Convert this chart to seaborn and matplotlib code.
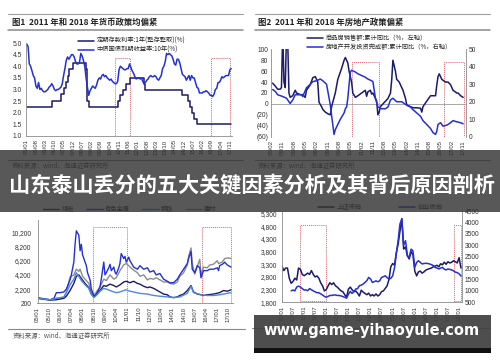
import pandas as pd
import matplotlib
matplotlib.use("Agg")
import matplotlib.pyplot as plt
import seaborn as sns
from matplotlib.lines import Line2D
from matplotlib.patches import Rectangle

# ---------------- data ----------------
# 图1: monthly 10y yield 2005-01 .. 2017-12, deposit rate as step changes
p1_yield = [
    4.95, 4.85, 4.1, 4.0, 3.8, 3.6, 3.5, 3.15, 3.05, 3.3, 3.0, 3.05,
    2.95, 2.9, 2.9, 2.95, 3.0, 3.1, 3.15, 3.25, 3.15, 3.0, 2.95, 3.0,
    3.0, 3.05, 3.1, 3.25, 3.6, 3.9, 4.25, 4.4, 4.3, 4.4, 4.5, 4.5,
    4.4, 4.2, 4.1, 4.1, 4.15, 4.55, 4.45, 4.25, 4.0, 3.5, 3.1, 2.75,
    2.95, 3.05, 3.15, 3.1, 3.05, 3.2, 3.4, 3.5, 3.45, 3.6, 3.65, 3.55,
    3.6, 3.5, 3.45, 3.4, 3.45, 3.35, 3.3, 3.25, 3.25, 3.35, 3.85, 4.0,
    3.95, 3.9, 3.85, 3.85, 3.9, 3.9, 4.1, 3.95, 3.8, 3.7, 3.55, 3.45,
    3.5, 3.5, 3.45, 3.5, 3.35, 3.25, 3.3, 3.4, 3.45, 3.55, 3.6, 3.55,
    3.55, 3.6, 3.55, 3.45, 3.4, 3.5, 3.6, 3.9, 4.0, 4.2, 4.55, 4.5,
    4.55, 4.5, 4.45, 4.3, 4.1, 4.05, 4.3, 4.3, 4.15, 3.9, 3.65, 3.6,
    3.55, 3.4, 3.5, 3.6, 3.4, 3.6, 3.5, 3.5, 3.3, 3.1, 3.05, 2.85,
    2.85, 2.85, 2.9, 2.9, 2.95, 2.9, 2.85, 2.75, 2.75, 2.7, 2.8, 3.0,
    3.05, 3.3, 3.3, 3.4, 3.55, 3.5, 3.55, 3.6, 3.6, 3.6, 3.85, 3.9,
]
p1_dep_dates = ["2005-01", "2006-08", "2007-03", "2007-05", "2007-07", "2007-08",
                "2007-09", "2007-12", "2008-10", "2008-11", "2008-12", "2010-10",
                "2010-12", "2011-02", "2011-04", "2011-07", "2012-06", "2012-07",
                "2014-11", "2015-03", "2015-05", "2015-06", "2015-08", "2015-10",
                "2017-12"]
p1_dep = [2.25, 2.52, 2.79, 3.06, 3.33, 3.60, 3.87, 4.14, 3.87, 2.52, 2.25, 2.50,
          2.75, 3.00, 3.25, 3.50, 3.25, 3.00, 2.75, 2.50, 2.25, 2.00, 1.75, 1.50,
          1.50]
p1_xticks = ["05/01", "05/08", "06/03", "06/10", "07/05", "07/12", "08/07", "09/02",
             "09/09", "10/04", "10/11", "11/06", "12/01", "12/08", "13/03", "13/10",
             "14/05", "14/12", "15/07", "16/02", "16/09", "17/04", "17/11"]
p1_yticks = [1.0, 1.5, 2.0, 2.5, 3.0, 3.5, 4.0, 4.5, 5.0]
p1_yticklabels = ["1.0", "1.5", "2.0", "2.5", "3.0", "3.5", "4.0", "4.5", "5.0"]
p1_boxes = [("2010-08", "2011-07"), ("2016-09", "2017-11")]

# 图2: sales growth (left axis), investment growth (right axis)
p2_sales_dates = [
    "2005-03", "2005-05", "2005-07", "2005-09", "2005-10", "2005-11", "2005-12", "2006-01",
    "2006-02", "2006-03", "2006-04", "2006-05", "2006-07", "2006-09", "2006-10", "2007-01",
    "2007-03", "2007-05", "2007-06", "2007-09", "2007-11", "2008-01", "2008-02", "2008-03",
    "2008-04", "2008-06", "2008-07", "2008-09", "2008-11", "2009-01", "2009-02", "2009-05",
    "2009-07", "2009-10", "2009-12", "2010-01", "2010-03", "2010-04", "2010-06", "2010-07",
    "2010-09", "2010-11", "2011-02", "2011-05", "2011-06", "2011-07", "2011-09", "2011-10",
    "2011-11", "2012-02", "2012-03", "2012-04", "2012-05", "2012-09", "2012-11", "2013-01",
    "2013-02", "2013-03", "2013-05", "2013-06", "2013-08", "2013-10", "2013-11", "2014-01",
    "2014-02", "2014-05", "2014-07", "2014-10", "2015-01", "2015-02", "2015-03", "2015-06",
    "2015-09", "2015-11", "2016-01", "2016-02", "2016-03", "2016-04", "2016-06", "2016-09",
    "2016-11", "2017-01", "2017-03", "2017-06", "2017-07", "2017-09", "2017-11"]
p2_sales = [
    38, 33, 27, 27, 30, 130, 40, 30,
    130, 120, 20, 12, 15, 25, 20, 17,
    17, 12, 25, 35, 48, 50, 45, 40,
    3, -5, -10, -15, -18, -20, -5, 20,
    45, 65, 80, 85, 75, 60, 40, 20,
    12, 15, 20, 25, 14, 22, 25, 18,
    20, 5, -20, -15, -5, 5, 10, 20,
    45, 80, 60, 45, 40, 30, 25, 10,
    -2, -5, -7, -7, -8, -15, -5, 5,
    15, 15, 15, 35, 50, 55, 45, 40,
    40, 35, 25, 20, 20, 15, 12]
p2_inv_dates = [
    "2005-03", "2005-05", "2005-07", "2005-11", "2006-02", "2006-04", "2006-05", "2006-07",
    "2006-09", "2006-11", "2007-02", "2007-03", "2007-06", "2007-09", "2007-11", "2008-02",
    "2008-05", "2008-07", "2008-10", "2008-11", "2009-01", "2009-02", "2009-04", "2009-05",
    "2009-07", "2009-09", "2009-12", "2010-01", "2010-02", "2010-03", "2010-05", "2010-06",
    "2010-09", "2010-11", "2011-02", "2011-05", "2011-07", "2011-10", "2011-11", "2012-01",
    "2012-03", "2012-06", "2012-09", "2012-11", "2013-01", "2013-03", "2013-06", "2013-10",
    "2014-02", "2014-05", "2014-07", "2014-10", "2015-01", "2015-03", "2015-06", "2015-09",
    "2015-11", "2016-01", "2016-02", "2016-03", "2016-05", "2016-07", "2016-10", "2017-01",
    "2017-03", "2017-06", "2017-09", "2017-11"]
p2_inv = [
    27, 26, 24, 23, 22, 20, 19, 21,
    24, 24, 24, 23, 28, 30, 31.5, 32,
    33, 32, 30, 26, 18, 12, 1.3, 4,
    7, 10, 13.6, 16, 17, 22, 37, 38,
    37, 36, 35, 34, 33, 32, 31.5, 22,
    17, 16, 16, 17, 21, 22, 20, 20,
    18, 17, 15.5, 13.6, 11.7, 9.2, 7, 4.7,
    2.3, 1.3, 3.2, 7, 8, 6, 6.6, 8,
    9.2, 8.5, 8, 7.4]
p2_xticks = ["05/02", "05/11", "06/08", "07/05", "08/02", "08/11", "09/08", "10/05",
             "11/02", "11/11", "12/08", "13/05", "14/02", "14/11", "15/08", "16/05",
             "17/02", "17/11"]
p2_yticks = [100, 80, 60, 40, 20, 0, -20, -40, -60]
p2_yticklabels = ["100", "80", "60", "40", "20", "0", "(20)", "(40)", "(60)"]
p2_rticks = [0, 10, 20, 30, 40, 50]
p2_rticklabels = ["0", "10", "20", "30", "40", "50"]
p2_boxes = [("2010-06", "2012-04"), ("2016-08", "2017-12")]

# 图3: industry price indices
p3_coal_dates = [
    "2005-01", "2005-11", "2006-04", "2006-10", "2006-12", "2007-03", "2007-06", "2007-08",
    "2007-10", "2007-12", "2008-03", "2008-06", "2008-08", "2008-10", "2008-12", "2009-03",
    "2009-06", "2009-08", "2009-11", "2010-02", "2010-04", "2010-07", "2010-10", "2010-12",
    "2011-03", "2011-06", "2011-09", "2011-11", "2012-02", "2012-05", "2012-07", "2012-10",
    "2012-12", "2013-03", "2013-06", "2013-09", "2013-11", "2014-02", "2014-05", "2014-07",
    "2014-10", "2015-01", "2015-04", "2015-06", "2015-09", "2015-12", "2016-02", "2016-05",
    "2016-10", "2017-03", "2017-06", "2017-09", "2017-12"]
p3_coal = [
    900, 650, 700, 900, 1200, 2000, 3000, 4000,
    4200, 3700, 3000, 2400, 1500, 1100, 1400, 2000,
    2700, 2600, 2900, 2700, 2500, 2800, 3200, 3300,
    3100, 3300, 3000, 2900, 2600, 2400, 2500, 2300,
    2100, 1800, 1500, 1400, 1100, 1000, 1100, 1300,
    1500, 2000, 2700, 1800, 1500, 1400, 1300, 1400,
    1500, 1700, 2000, 1900, 2100]
p3_metal_dates = [
    "2005-01", "2005-05", "2005-11", "2006-02", "2006-04", "2006-07", "2006-10", "2006-12",
    "2007-03", "2007-04", "2007-06", "2007-07", "2007-08", "2007-10", "2007-11", "2007-12",
    "2008-01", "2008-02", "2008-04", "2008-05", "2008-07", "2008-08", "2008-10", "2008-11",
    "2009-01", "2009-03", "2009-04", "2009-06", "2009-07", "2009-08", "2009-10", "2009-11",
    "2009-12", "2010-02", "2010-03", "2010-04", "2010-06", "2010-07", "2010-08", "2010-10",
    "2010-11", "2010-12", "2011-02", "2011-03", "2011-06", "2011-09", "2011-11", "2012-02",
    "2012-05", "2012-07", "2012-10", "2012-12", "2013-03", "2013-06", "2013-09", "2013-11",
    "2014-02", "2014-05", "2014-07", "2014-10", "2015-01", "2015-02", "2015-04", "2015-05",
    "2015-07", "2015-09", "2015-11", "2015-12", "2016-02", "2016-05", "2016-07", "2016-10",
    "2017-01", "2017-02", "2017-03", "2017-06", "2017-07", "2017-09", "2017-11", "2017-12"]
p3_metal = [
    1000, 800, 700, 900, 1700, 1700, 1800, 2200,
    3500, 4200, 6000, 8500, 10400, 9800, 7600, 8500,
    7000, 6500, 5500, 4500, 3500, 2200, 1300, 1200,
    1800, 2500, 3600, 6000, 4200, 4500, 5200, 5700,
    4800, 5300, 4600, 4300, 5200, 5800, 7200, 6500,
    6800, 6000, 6700, 6200, 5300, 5000, 5500, 5000,
    5200, 4600, 4800, 4200, 4400, 3600, 3300, 3100,
    3100, 3600, 4200, 5000, 5800, 6500, 7500, 5000,
    4500, 5500, 5200, 3800, 4800, 4800, 5000, 5000,
    5200, 4800, 5500, 5800, 6000, 5600, 5400, 5300]
p3_steel_dates = [
    "2005-01", "2005-11", "2006-04", "2006-10", "2006-12", "2007-03", "2007-06", "2007-08",
    "2007-10", "2007-12", "2008-03", "2008-06", "2008-08", "2008-10", "2008-12", "2009-03",
    "2009-06", "2009-08", "2009-11", "2010-02", "2010-04", "2010-07", "2010-10", "2010-12",
    "2011-03", "2011-06", "2011-11", "2012-05", "2012-10", "2013-03", "2013-09", "2014-02",
    "2014-07", "2015-01", "2015-04", "2015-06", "2015-12", "2016-05", "2016-10", "2017-03",
    "2017-09", "2017-12"]
p3_steel = [
    900, 700, 900, 1100, 1700, 2800, 3600, 4500,
    4000, 3400, 2800, 2300, 1500, 1000, 1300, 1900,
    2300, 2200, 2000, 1800, 1700, 1800, 2000, 2100,
    1900, 1800, 1600, 1500, 1300, 1200, 1100, 1000,
    1100, 1600, 2600, 1700, 1400, 1300, 1300, 1400,
    1600, 1700]
p3_build_dates = [
    "2005-01", "2005-11", "2006-04", "2006-10", "2006-12", "2007-03", "2007-06", "2007-08",
    "2007-10", "2007-11", "2008-01", "2008-03", "2008-06", "2008-08", "2008-10", "2008-12",
    "2009-03", "2009-06", "2009-08", "2009-11", "2010-02", "2010-04", "2010-07", "2010-10",
    "2010-12", "2011-02", "2011-05", "2011-09", "2011-11", "2012-02", "2012-05", "2012-07",
    "2012-10", "2012-12", "2013-03", "2013-06", "2013-09", "2013-11", "2014-02", "2014-05",
    "2014-07", "2014-10", "2015-01", "2015-02", "2015-04", "2015-05", "2015-07", "2015-09",
    "2015-11", "2015-12", "2016-02", "2016-05", "2016-07", "2016-10", "2017-01", "2017-02",
    "2017-05", "2017-07", "2017-10", "2017-12"]
p3_build = [
    1000, 700, 900, 1000, 1800, 3900, 4200, 5000,
    4700, 5000, 4000, 3600, 3000, 1800, 1300, 1800,
    2500, 3600, 3400, 4200, 3600, 3800, 4800, 5600,
    5800, 5500, 5000, 4500, 4000, 4200, 3500, 3700,
    3600, 3800, 3500, 3200, 3200, 3000, 2900, 3200,
    4000, 4500, 5600, 6800, 8000, 5800, 4300, 5400,
    6400, 4200, 5300, 5200, 5600, 5700, 6200, 5800,
    6000, 6500, 6600, 6500]
p3_xticks = ["05/01", "05/10", "06/07", "07/04", "08/01", "08/10", "09/07", "10/04",
             "11/01", "11/10", "12/07", "13/04", "14/01", "14/10", "15/07", "16/04",
             "17/01", "17/10"]
p3_yticks = [200, 2200, 4200, 6200, 8200, 10200]
p3_yticklabels = ["200", "2,200", "4,200", "6,200", "8,200", "10,200"]
p3_boxes = [("2008-09", "2011-01"), ("2016-01", "2017-12")]

# 图4: 上证综指 monthly 2010-01 .. 2018-02, 创业板指 2010-06 .. 2018-02
p4_sse = [
    3220, 3050, 3150, 3150, 2750, 2550, 2620, 2750, 2680, 3150, 3100, 2900,
    2850, 2900, 2950, 2900, 3050, 2900, 2800, 2840, 2750, 2570, 2450, 2250,
    2300, 2450, 2570, 2500, 2570, 2450, 2400, 2320, 2250, 2220, 2100, 2000,
    2320, 2400, 2300, 2220, 2250, 2160, 2050, 2280, 2200, 2150, 2100, 2160,
    2050, 2100, 2050, 2130, 2050, 2100, 2220, 2250, 2350, 2450, 2700, 3200,
    3330, 3270, 3740, 4090, 4600, 5100, 3900, 3980, 3630, 3510, 3800, 3680,
    3030, 2840, 3000, 3030, 2950, 3000, 3070, 3100, 3130, 3150, 3200, 3230,
    3260, 3200, 3320, 3280, 3380, 3300, 3400, 3350, 3380, 3440, 3400, 3350,
    3560, 3150,
]
p4_gem = [
    1000, 1040, 1000, 1170, 1210, 1170, 1100,
    1040, 1040, 1010, 1100, 1050, 1000, 960, 920, 920, 870, 820, 760,
    720, 760, 800, 800, 820, 820, 800, 800, 780, 750, 720, 680,
    850, 980, 890, 960, 1080, 1100, 1230, 1250, 1300, 1370, 1450, 1590,
    1520, 1370, 1400, 1440, 1400, 1440, 1590, 1620, 1660, 1580, 1520, 1550,
    1660, 2020, 2610, 3200, 3930, 4150, 3000, 3200, 2540, 2470, 2830, 2760,
    2030, 2250, 2320, 2250, 2180, 2200, 2210, 2200, 2180, 2150, 2110, 2030,
    2000, 1960, 2000, 2030, 1950, 1920, 1960, 1940, 1920, 1880, 1820, 1800,
    1750, 1650,
]
p4_xticks = ["10/01", "10/07", "11/01", "11/07", "12/01", "12/07", "13/01", "13/07",
             "14/01", "14/07", "15/01", "15/07", "16/01", "16/07", "17/01", "17/07",
             "18/01"]
p4_yticks = [1800, 2300, 2800, 3300, 3800, 4300, 4800, 5300]
p4_yticklabels = ["1,800", "2,300", "2,800", "3,300", "3,800", "4,300", "4,800", "5,300"]
p4_rticks = [500, 1000, 1500, 2000, 2500, 3000, 3500, 4000, 4500]
p4_rticklabels = ["500", "1000", "1500", "2000", "2500", "3000", "3500", "4000", "4500"]
p4_boxes = [("2010-11", "2012-01"), ("2017-10", "2018-02")]

# ---------------- style ----------------
sns.set_theme(style="white")
plt.rcParams["font.family"] = ["Liberation Sans", "Noto Sans CJK SC", "DejaVu Sans"]
CJK = ["Noto Sans CJK SC", "DejaVu Sans"]

NAVY = "#1c1a6b"
BLUE = "#2430d8"
LBLUE = "#4d88e6"
GREY = "#8c8c8c"
RED = "#e0626a"
SPINE = "#8a8a8a"

W, H = 500, 362
fig = plt.figure(figsize=(5, 3.62), dpi=100, facecolor="white")


def fx(x):
    return x / W


def fy(y):
    return 1 - y / H


def rect(l, t, r, b):
    return [fx(l), fy(b), (r - l) / W, (b - t) / H]


def tick_dates(labels):
    return pd.to_datetime(["20" + t for t in labels], format="%Y/%m")


def draw(ax, dates, values, color, label, lw=1.0, **kw):
    sns.lineplot(x=pd.to_datetime(dates), y=values, ax=ax, color=color,
                 label=label, lw=lw, legend=False, **kw)
    ax.set_xlabel("")
    ax.set_ylabel("")


def style(ax, xticks, xlim, ylim, yticks, yticklabels, ypad=2.0, bottom=True):
    ax.set_xlim(pd.to_datetime(xlim[0]), pd.to_datetime(xlim[1]))
    ax.set_ylim(ylim)
    ax.set_xticks(tick_dates(xticks))
    ax.set_xticklabels(xticks, rotation=90, fontsize=4.3, color="#333333")
    ax.set_yticks(yticks)
    ax.set_yticklabels(yticklabels, fontsize=4.8, color="#333333")
    ax.tick_params(axis="x", length=1.5, width=0.5, pad=1, color=SPINE)
    ax.tick_params(axis="y", length=0, pad=ypad)
    ax.set_facecolor("none")
    for side in ["top", "right"]:
        ax.spines[side].set_visible(False)
    ax.spines["left"].set_color(SPINE)
    ax.spines["left"].set_linewidth(0.6)
    ax.spines["bottom"].set_visible(bottom)
    ax.spines["bottom"].set_color(SPINE)
    ax.spines["bottom"].set_linewidth(0.6)


def right_axis(axr, ylim, ticks, labels, pad=2.0):
    axr.set_ylim(ylim)
    axr.set_yticks(ticks)
    axr.set_yticklabels(labels, fontsize=4.8, color="#333333")
    axr.tick_params(axis="y", length=0, pad=pad)
    for side in ["top", "left", "bottom"]:
        axr.spines[side].set_visible(False)
    axr.spines["right"].set_color(SPINE)
    axr.spines["right"].set_linewidth(0.6)
    axr.set_ylabel("")


def boxes(ax, spans, top, bottom=0.0):
    for a, b in spans:
        ax.axvspan(pd.Timestamp(a), pd.Timestamp(b), ymin=bottom, ymax=top,
                   fill=False, ec=RED, lw=0.7, ls=(0, (1, 1)))


def legend(ax, handles, x, y, ncol=1, colsp=2.0):
    ax.legend(handles=handles, loc="upper left", bbox_to_anchor=(fx(x), fy(y)),
              bbox_transform=fig.transFigure, ncol=ncol, frameon=False,
              prop={"family": CJK, "size": 4.5}, handlelength=2.6,
              handletextpad=0.35, labelspacing=0.15, columnspacing=colsp,
              borderpad=0, borderaxespad=0)


# ---------------- 图1 ----------------
ax1 = fig.add_axes(rect(26, 43, 232, 136))
draw(ax1, p1_dep_dates, p1_dep, NAVY, "定期存款利率:1年(整存整取)(%)", lw=1.1,
     drawstyle="steps-post")
draw(ax1, pd.date_range("2005-01-01", periods=len(p1_yield), freq="MS"), p1_yield,
     BLUE, "中债国债到期收益率:10年(%)", lw=1.1)
style(ax1, p1_xticks, ("2004-12-15", "2017-12-20"), (1, 5), p1_yticks,
      p1_yticklabels, ypad=3)
boxes(ax1, p1_boxes, 0.84)
h, _ = ax1.get_legend_handles_labels()
legend(ax1, h, 78, 37)

# ---------------- 图2 ----------------
ax2 = fig.add_axes(rect(271, 49.3, 466, 136.7))
ax2r = ax2.twinx()
ax2.axhline(0, color="#9a9a9a", lw=0.6)
draw(ax2, p2_sales_dates, p2_sales, NAVY, "商品房销售额:累计同比（%，左轴）", lw=1.1)
draw(ax2r, p2_inv_dates, p2_inv, BLUE, "房地产开发投资完成额:累计同比（%，右轴）", lw=1.1)
style(ax2, p2_xticks, ("2005-01-20", "2018-01-10"), (-60, 100), p2_yticks,
      p2_yticklabels, bottom=False)
right_axis(ax2r, (0, 50), p2_rticks, p2_rticklabels)
boxes(ax2, p2_boxes, 0.855)
h1, _ = ax2.get_legend_handles_labels()
h2, _ = ax2r.get_legend_handles_labels()
legend(ax2r, h1 + h2, 307, 34)

# ---------------- 图3 ----------------
ax3 = fig.add_axes(rect(37.5, 220, 233, 303.3))
draw(ax3, p3_build_dates, p3_build, GREY, "建材", lw=1.0)
draw(ax3, p3_metal_dates, p3_metal, BLUE, "有色金属", lw=1.0)
draw(ax3, p3_coal_dates, p3_coal, NAVY, "煤炭", lw=1.0)
draw(ax3, p3_steel_dates, p3_steel, LBLUE, "钢铁", lw=1.0)
style(ax3, p3_xticks, ("2004-12-26", "2018-01-20"), (200, 11930), p3_yticks,
      p3_yticklabels, ypad=4.5)
boxes(ax3, p3_boxes, 0.916)
hd = dict(zip(*ax3.get_legend_handles_labels()[::-1]))
legend(ax3, [hd["煤炭"], hd["有色金属"], hd["钢铁"], hd["建材"]], 43, 205, ncol=4, colsp=2.0)

# ---------------- 图4 ----------------
ax4 = fig.add_axes(rect(282, 211, 462, 302.3))
ax4r = ax4.twinx()
draw(ax4, pd.date_range("2010-01-01", periods=len(p4_sse), freq="MS"), p4_sse,
     NAVY, "上证综指", lw=1.1)
draw(ax4r, pd.date_range("2010-06-01", periods=len(p4_gem), freq="MS"), p4_gem,
     BLUE, "创业板指", lw=1.1)
style(ax4, p4_xticks, ("2010-01-01", "2018-02-18"), (1800, 5400), p4_yticks,
      p4_yticklabels, ypad=3.6)
right_axis(ax4r, (500, 4500), p4_rticks, p4_rticklabels)
boxes(ax4, p4_boxes, 0.847, 0.014)
h1, _ = ax4.get_legend_handles_labels()
h2, _ = ax4r.get_legend_handles_labels()
legend(ax4r, h1 + h2, 318, 203, ncol=2, colsp=6.0)


# ---------------- page decorations ----------------
def hline(x0, x1, y, color, lw, z=5):
    fig.add_artist(Line2D([fx(x0), fx(x1)], [fy(y), fy(y)], transform=fig.transFigure,
                          color=color, lw=lw, zorder=z))


for x0, x1 in [(8, 243), (255, 490)]:
    hline(x0, x1, 14, "#a0a0a0", 0.8)
    hline(x0, x1, 30, "#8a8a8a", 1.1)
    hline(x0, x1, 160, "#8a8a8a", 0.8)
hline(8, 245, 329, "#8a8a8a", 0.8)
hline(252, 490, 328, "#8a8a8a", 0.8)

fig.text(fx(12), fy(22), "图1  2011 年和 2018 年货币政策均偏紧", ha="left", va="center",
         fontsize=6, fontweight="bold", color="#222222", family=CJK)
fig.text(fx(258), fy(22), "图2  2011 年和 2018 年房地产政策偏紧", ha="left", va="center",
         fontsize=6, fontweight="bold", color="#222222", family=CJK)
for x, y in [(12, 166), (258, 166), (13, 336)]:
    fig.text(fx(x), fy(y), "资料来源：wind、海通证券研究所", ha="left", va="center",
             fontsize=4.6, color="#555555", family=CJK)

# overlay banner with title
fig.add_artist(Rectangle((0, fy(212)), 1, (212 - 150) / H, transform=fig.transFigure,
                         color="#333333", alpha=0.82, lw=0, zorder=20))
fig.text(fx(252), fy(186), "山东泰山丢分的五大关键因素分析及其背后原因剖析", ha="center",
         va="center", fontsize=15.2, fontweight="bold", color="white",
         family=CJK, zorder=21)

# url banner
fig.add_artist(Rectangle((fx(254), fy(349)), (491 - 254) / W, (349 - 315) / H,
                         transform=fig.transFigure, color="#404040", alpha=0.93,
                         lw=0, zorder=20))
fig.add_artist(Rectangle((fx(254), fy(353)), (491 - 254) / W, 5 / H,
                         transform=fig.transFigure, color="#111111", lw=0, zorder=20))
fig.text(fx(372), fy(331), "www.game-yihaoyule.com", ha="center", va="center",
         fontsize=10.5, fontweight="bold", color="white", family="DejaVu Sans", zorder=21)

fig.savefig("out.png", dpi=100, facecolor="white")
